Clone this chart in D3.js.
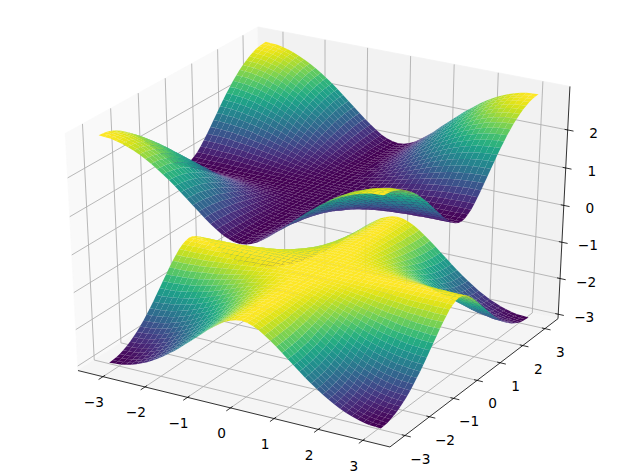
<!DOCTYPE html>
<html><head><meta charset="utf-8">
<script src="https://cdn.jsdelivr.net/npm/d3@7"></script>
<style>html,body{margin:0;padding:0;background:#fff}svg{display:block}text{font-family:"DejaVu Sans",sans-serif;font-size:13.7px;fill:#000}</style>
</head><body><svg id="c" width="631" height="474"></svg>
<script>
// grid positions from the centre out to the edge (the picture is mirror-symmetric about x=0 and y=0)
const gridOut=[0,0.1309,0.2618,0.3927,0.5236,0.6545,0.7854,0.9163,1.0472,1.1781,1.309,1.4399,1.5708,1.7017,1.8326,1.9635,2.0944,2.2253,2.3562,2.4871,2.618,2.7489,2.8798,3.0107,3.1416];
const tickValues=[-3,-2,-1,0,1,2,3];
const zTickValues=[-3,-2,-1,0,1,2];
// height of the upper sheet over one quadrant: rows = |y|, columns = |x|
const upperQuadrant=[
[1.00,1.00,1.00,1.00,1.00,1.00,1.00,1.00,1.00,1.00,1.00,1.00,1.00,1.00,1.00,1.00,1.00,1.00,1.00,1.00,1.00,1.00,1.00,1.00,1.00],
[1.00,1.00,1.00,1.00,1.00,1.00,1.00,1.00,1.00,1.01,1.01,1.01,1.01,1.01,1.01,1.01,1.01,1.01,1.01,1.02,1.02,1.02,1.02,1.02,1.02],
[1.00,1.00,1.00,1.00,1.00,1.01,1.01,1.01,1.02,1.02,1.02,1.03,1.03,1.04,1.04,1.05,1.05,1.05,1.06,1.06,1.06,1.06,1.06,1.07,1.07],
[1.00,1.00,1.00,1.01,1.01,1.02,1.02,1.03,1.04,1.05,1.05,1.06,1.07,1.08,1.09,1.10,1.11,1.12,1.12,1.13,1.13,1.14,1.14,1.14,1.14],
[1.00,1.00,1.00,1.01,1.02,1.03,1.04,1.05,1.06,1.08,1.09,1.11,1.13,1.14,1.16,1.17,1.18,1.20,1.21,1.22,1.22,1.23,1.24,1.24,1.24],
[1.00,1.00,1.01,1.02,1.03,1.04,1.06,1.08,1.10,1.12,1.14,1.17,1.19,1.21,1.23,1.25,1.27,1.29,1.31,1.32,1.33,1.34,1.35,1.35,1.35],
[1.00,1.00,1.01,1.02,1.04,1.06,1.08,1.11,1.14,1.17,1.20,1.23,1.26,1.29,1.32,1.35,1.37,1.39,1.41,1.43,1.45,1.46,1.47,1.47,1.47],
[1.00,1.00,1.01,1.03,1.05,1.08,1.11,1.14,1.18,1.22,1.26,1.30,1.34,1.37,1.41,1.44,1.47,1.50,1.53,1.55,1.57,1.58,1.59,1.60,1.60],
[1.00,1.00,1.02,1.04,1.06,1.10,1.14,1.18,1.22,1.27,1.32,1.37,1.41,1.46,1.50,1.54,1.58,1.62,1.65,1.67,1.69,1.71,1.72,1.73,1.73],
[1.00,1.01,1.02,1.05,1.08,1.12,1.17,1.22,1.27,1.33,1.38,1.44,1.49,1.55,1.60,1.65,1.69,1.73,1.76,1.79,1.82,1.84,1.85,1.86,1.86],
[1.00,1.01,1.02,1.05,1.09,1.14,1.20,1.26,1.32,1.38,1.45,1.51,1.58,1.64,1.69,1.75,1.80,1.84,1.88,1.91,1.94,1.96,1.98,1.99,1.99],
[1.00,1.01,1.03,1.06,1.11,1.17,1.23,1.30,1.37,1.44,1.51,1.58,1.65,1.72,1.79,1.85,1.90,1.95,1.99,2.03,2.06,2.08,2.10,2.11,2.12],
[1.00,1.01,1.03,1.07,1.13,1.19,1.26,1.34,1.41,1.49,1.58,1.65,1.73,1.81,1.88,1.94,2.00,2.05,2.10,2.14,2.18,2.20,2.22,2.23,2.24],
[1.00,1.01,1.04,1.08,1.14,1.21,1.29,1.37,1.46,1.55,1.64,1.72,1.81,1.89,1.96,2.03,2.10,2.15,2.20,2.25,2.28,2.31,2.33,2.35,2.35],
[1.00,1.01,1.04,1.09,1.16,1.23,1.32,1.41,1.50,1.60,1.69,1.79,1.88,1.96,2.04,2.12,2.19,2.25,2.30,2.35,2.39,2.42,2.44,2.45,2.46],
[1.00,1.01,1.05,1.10,1.17,1.25,1.35,1.44,1.54,1.65,1.75,1.85,1.94,2.03,2.12,2.20,2.27,2.33,2.39,2.44,2.48,2.51,2.54,2.55,2.56],
[1.00,1.01,1.05,1.11,1.18,1.27,1.37,1.47,1.58,1.69,1.80,1.90,2.00,2.10,2.19,2.27,2.35,2.41,2.47,2.53,2.57,2.60,2.63,2.64,2.65],
[1.00,1.01,1.05,1.12,1.20,1.29,1.39,1.50,1.62,1.73,1.84,1.95,2.05,2.15,2.25,2.33,2.41,2.49,2.55,2.60,2.65,2.68,2.71,2.72,2.73],
[1.00,1.01,1.06,1.12,1.21,1.31,1.41,1.53,1.65,1.76,1.88,1.99,2.10,2.20,2.30,2.39,2.47,2.55,2.61,2.67,2.71,2.75,2.78,2.79,2.80],
[1.00,1.02,1.06,1.13,1.22,1.32,1.43,1.55,1.67,1.79,1.91,2.03,2.14,2.25,2.35,2.44,2.53,2.60,2.67,2.73,2.77,2.81,2.84,2.85,2.86],
[1.00,1.02,1.06,1.13,1.22,1.33,1.45,1.57,1.69,1.82,1.94,2.06,2.18,2.28,2.39,2.48,2.57,2.65,2.71,2.77,2.82,2.86,2.89,2.90,2.91],
[1.00,1.02,1.06,1.14,1.23,1.34,1.46,1.58,1.71,1.84,1.96,2.08,2.20,2.31,2.42,2.51,2.60,2.68,2.75,2.81,2.86,2.90,2.93,2.94,2.95],
[1.00,1.02,1.06,1.14,1.24,1.35,1.47,1.59,1.72,1.85,1.98,2.10,2.22,2.33,2.44,2.54,2.63,2.71,2.78,2.84,2.89,2.93,2.95,2.97,2.98],
[1.00,1.02,1.07,1.14,1.24,1.35,1.47,1.60,1.73,1.86,1.99,2.11,2.23,2.35,2.45,2.55,2.64,2.72,2.79,2.85,2.90,2.94,2.97,2.99,2.99],
[1.00,1.02,1.07,1.14,1.24,1.35,1.47,1.60,1.73,1.86,1.99,2.12,2.24,2.35,2.46,2.56,2.65,2.73,2.80,2.86,2.91,2.95,2.98,2.99,3.00]
];
const unfold=r=>r.slice(1).reverse().concat(r);
const gridX=gridOut.slice(1).reverse().map(v=>-v).concat(gridOut);
const gridY=gridX;
const upperZ=unfold(upperQuadrant.map(unfold));
const lowerZ=upperZ.map(r=>r.map(v=>-v));   // the lower sheet mirrors the upper one in the picture

const XL=3.6,ZL=3.125;
const sx=d3.scaleLinear([-XL,XL],[-.5,.5]), sy=sx.copy(), sz=d3.scaleLinear([-ZL,ZL],[-.5,.5]);
const px=d3.scaleLinear([0,1],[321.7,321.7+3601]), py=d3.scaleLinear([0,1],[229.8,229.8-2708]);
const el=30*Math.PI/180, az=-60*Math.PI/180, D=10;
const w=[Math.cos(el)*Math.cos(az),Math.cos(el)*Math.sin(az),Math.sin(el)];
const n=Math.hypot(w[1],w[0]);
const u=[-w[1]/n,w[0]/n,0];
const v=[w[1]*u[2]-w[2]*u[1],w[2]*u[0]-w[0]*u[2],w[0]*u[1]-w[1]*u[0]];
const dot=(a,b)=>a[0]*b[0]+a[1]*b[1]+a[2]*b[2];
function project(x,y,z){
  const p=[sx(x),sy(y),sz(z)], d=D-dot(p,w);
  return {x:px(dot(p,u)/d),y:py(dot(p,v)/d),depth:d};
}
const svg=d3.select("#c");
const path=d3.line().x(d=>d.x).y(d=>d.y);
const closed=d3.line().x(d=>d.x).y(d=>d.y).curve(d3.curveLinearClosed);
function poly3(pts){return pts.map(p=>project(p[0],p[1],p[2]));}

// panes
const panes=[
 {c:"#f9f9f9",p:[[-XL,-XL,-ZL],[-XL,XL,-ZL],[-XL,XL,ZL],[-XL,-XL,ZL]]},
 {c:"#f2f2f2",p:[[-XL,XL,-ZL],[XL,XL,-ZL],[XL,XL,ZL],[-XL,XL,ZL]]},
 {c:"#f5f5f5",p:[[-XL,-XL,-ZL],[XL,-XL,-ZL],[XL,XL,-ZL],[-XL,XL,-ZL]]}
];
svg.append("g").selectAll("path").data(panes).join("path").attr("d",d=>closed(poly3(d.p))).attr("fill",d=>d.c).attr("stroke",d=>d.c).attr("stroke-width",.8);

// grid
const gridLines=[
 ...tickValues.map(t=>[[t,-XL,-ZL],[t,XL,-ZL],[t,XL,ZL]]),
 ...tickValues.map(t=>[[XL,t,-ZL],[-XL,t,-ZL],[-XL,t,ZL]]),
 ...zTickValues.map(t=>[[-XL,-XL,t],[-XL,XL,t],[XL,XL,t]])
];
svg.append("g").selectAll("path").data(gridLines).join("path").attr("d",d=>path(poly3(d))).attr("fill","none").attr("stroke","#b0b0b0").attr("stroke-width",.9);

// axis lines + ticks
const axisLines=[
 [[-XL,-XL,-ZL],[XL,-XL,-ZL]],
 [[XL,-XL,-ZL],[XL,XL,-ZL]],
 [[XL,XL,-ZL],[XL,XL,ZL]]
];
const ticks=[
 ...tickValues.map(t=>[[t,-XL+.08,-ZL],[t,-XL-.16,-ZL]]),
 ...tickValues.map(t=>[[XL-.07,t,-ZL],[XL+.13,t,-ZL]]),
 ...zTickValues.map(t=>[[XL-.07,XL,t],[XL+.13,XL,t]])
];
svg.append("g").selectAll("path").data(axisLines.concat(ticks)).join("path").attr("d",d=>path(poly3(d))).attr("fill","none").attr("stroke","#000").attr("stroke-width",.8);

// labels
const fmt=t=>(t<0?"\u2212":"")+Math.abs(t);
const labels=[
 ...tickValues.map(t=>{const a=project(t,-XL,-ZL);return {t,x:a.x-9,y:a.y+25.5};}),
 ...tickValues.map(t=>{const a=project(XL,t,-ZL);return {t,x:a.x+15.5,y:a.y+23};}),
 ...zTickValues.map(t=>{const a=project(XL,XL,t);return {t,x:a.x+26,y:a.y+3};})
];
svg.append("g").selectAll("text").data(labels).join("text").attr("x",d=>d.x).attr("y",d=>d.y).attr("text-anchor","middle").attr("dominant-baseline","central").text(d=>fmt(d.t));

// surfaces
function drawSurface(Z){
  const cells=[];
  d3.range(gridY.length-1).forEach(j=>d3.range(gridX.length-1).forEach(i=>{
    const corners=[[i,j],[i+1,j],[i+1,j+1],[i,j+1]].map(([a,b])=>[gridX[a],gridY[b],Z[b][a]]);
    const pts=poly3(corners);
    cells.push({pts,mean:d3.mean(corners,c=>c[2]),depth:d3.mean(pts,p=>p.depth)});
  }));
  const color=d3.scaleSequential(d3.interpolateViridis).domain(d3.extent(cells,c=>c.mean));
  cells.sort((a,b)=>d3.descending(a.depth,b.depth));
  svg.append("g").selectAll("path").data(cells).join("path").attr("d",d=>closed(d.pts)).attr("fill",d=>color(d.mean));
}
drawSurface(lowerZ);
drawSurface(upperZ);
</script></body></html>
